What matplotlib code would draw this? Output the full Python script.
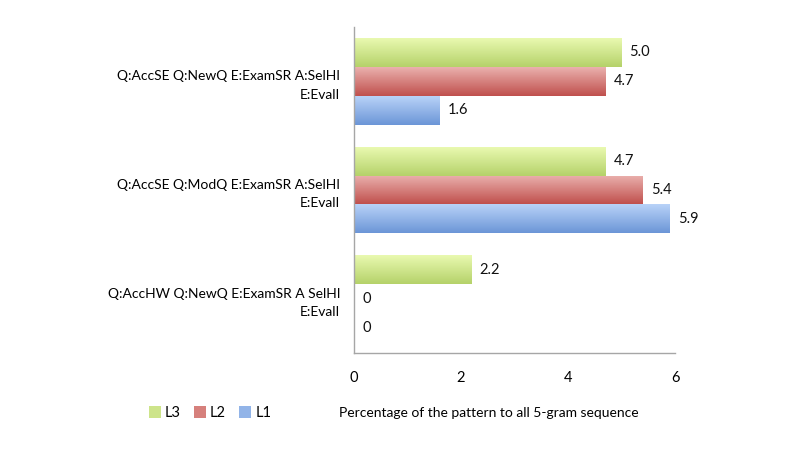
import matplotlib
matplotlib.use("Agg")
import matplotlib.pyplot as plt
import numpy as np
from matplotlib.colors import LinearSegmentedColormap

plt.rcParams['font.family'] = ['Lato', 'DejaVu Sans']

categories = ["Q:AccSE Q:NewQ E:ExamSR A:SelHI\nE:EvalI",
              "Q:AccSE Q:ModQ E:ExamSR A:SelHI\nE:EvalI",
              "Q:AccHW Q:NewQ E:ExamSR A SelHI\nE:EvalI"]
series = ["L3", "L2", "L1"]
L3 = [5.0, 4.7, 2.2]
L2 = [4.7, 5.4, 0]
L1 = [1.6, 5.9, 0]
xticks = [0, 2, 4, 6]
xlabel = "Percentage of the pattern to all 5-gram sequence"

# gradient top/bottom colours per series
grads = {"L3": ("#e9f9b0", "#b5d26a"),
         "L2": ("#eab0ad", "#c0514e"),
         "L1": ("#b8d2f8", "#6c96d7")}
mid = {"L3": "#cde48a", "L2": "#d6807c", "L1": "#92b4e8"}
fs = 10

fig = plt.figure(figsize=(8, 4.54), dpi=100)
ax = fig.add_axes([0.4425, 0.2225, 0.40125, 0.718])

h = 0.266
ypos = np.arange(len(categories))[::-1]
offsets = {"L3": h, "L2": 0, "L1": -h}
vals = {"L3": L3, "L2": L2, "L1": L1}
handles = []
for s in series:
    bars = ax.barh(ypos + offsets[s], vals[s], height=h, color=mid[s], zorder=2, label=s)
    handles.append(bars)
    cmap = LinearSegmentedColormap.from_list(s, [grads[s][1], grads[s][0]])
    for b, v in zip(bars, vals[s]):
        y0 = b.get_y()
        if v > 0:
            im = ax.imshow(np.linspace(0, 1, 50).reshape(-1, 1), cmap=cmap, origin='lower',
                           extent=[0, v, y0, y0 + h], aspect='auto', zorder=2.5)
            im.set_clip_path(b)
        lab = "0" if v == 0 else f"{v:.1f}"
        ax.text(v + 0.15, y0 + h / 2, lab, va='center', ha='left', fontsize=fs + 0.5, color='#111111')

ax.set_xlim(0, 6)
ax.set_ylim(-0.5, 2.5)
ax.set_xticks(xticks)
ax.set_xticklabels([str(t) for t in xticks], fontsize=fs + 0.5)
ax.set_yticks(ypos)
ax.set_yticklabels(categories, fontsize=fs, ha='right', multialignment='right', linespacing=1.65)
ax.tick_params(length=0, pad=13)
ax.tick_params(axis='y', pad=10)
for sp in ['top', 'right']:
    ax.spines[sp].set_visible(False)
for sp in ['left', 'bottom']:
    ax.spines[sp].set_color('#a6a6a6')
    ax.spines[sp].set_linewidth(1)

fig.text(0.424, 0.09, xlabel, fontsize=fs, ha='left', va='center')
fig.legend(handles=handles, labels=series, loc='center left', bbox_to_anchor=(0.177, 0.09),
           ncol=3, frameon=False, fontsize=fs + 0.5, handlelength=0.8, handleheight=0.8,
           handletextpad=0.3, columnspacing=0.9, borderpad=0)

fig.savefig("out.png", dpi=100)
